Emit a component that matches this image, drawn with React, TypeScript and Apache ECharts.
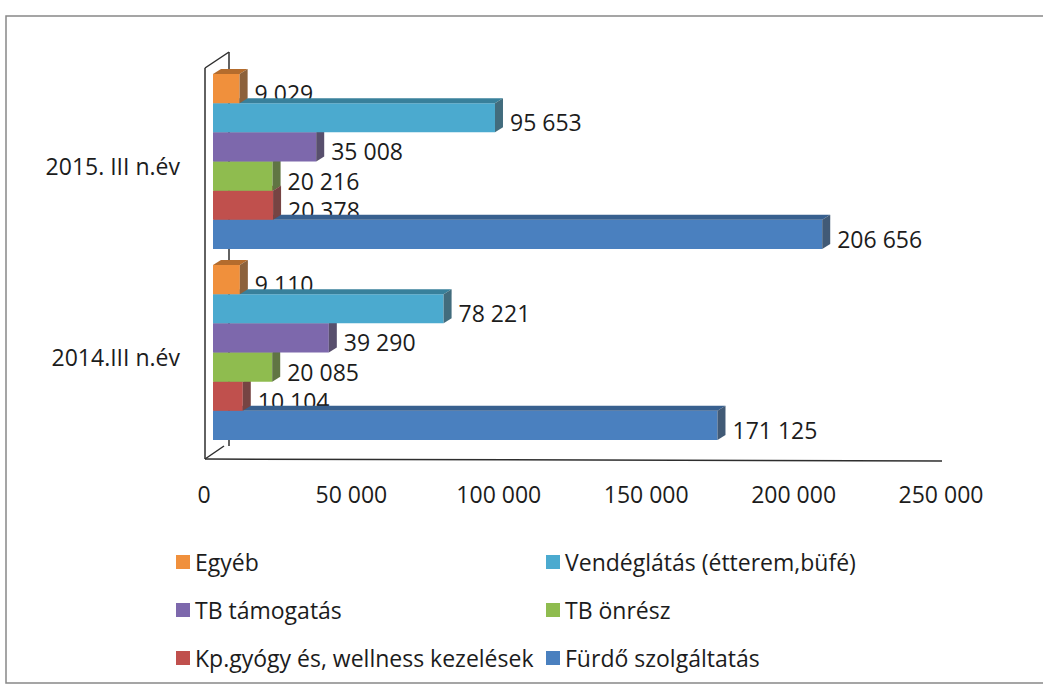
import React, { useEffect, useRef } from "react";
import * as echarts from "echarts";

// ---- data ----
const categories = ["2014.III n.év", "2015. III n.év"];
const seriesNames = [
  "Egyéb",
  "Vendéglátás (étterem,büfé)",
  "TB támogatás",
  "TB önrész",
  "Kp.gyógy és, wellness kezelések",
  "Fürdő szolgáltatás",
];
// values: [2014, 2015]
const egyeb = [9110, 9029];
const vendeglatas = [78221, 95653];
const tbTamogatas = [39290, 35008];
const tbOnresz = [20085, 20216];
const kpGyogy = [10104, 20378];
const furdo = [171125, 206656];
const seriesValues = [egyeb, vendeglatas, tbTamogatas, tbOnresz, kpGyogy, furdo];
const xMax = 250000;
const xInterval = 50000;

// ---- styling ----
const colors = ["#F0903C", "#4BAACF", "#7D68AC", "#8FBC4F", "#C0504D", "#4A80BF"];
const FONT = "'Open Sans', 'Noto Sans', sans-serif";
const TEXT = "#1c1c1c";
const DX = 9; // bar shift right (depth)
const DY = -4.5; // bar shift up (depth)
const DDX = 8; // bar depth x
const DDY = 5; // bar depth y
const BAR_FILL = 0.916;

function hexToRgb(h: string) {
  const n = parseInt(h.slice(1), 16);
  return [(n >> 16) & 255, (n >> 8) & 255, n & 255];
}
function mix(a: string, b: string, t: number) {
  const x = hexToRgb(a);
  const y = hexToRgb(b);
  const r = x.map((v, i) => Math.round(v * (1 - t) + y[i] * t));
  return `rgb(${r[0]},${r[1]},${r[2]})`;
}
function fmt(v: number) {
  return String(v).replace(/\B(?=(\d{3})+(?!\d))/g, " ");
}

const NSER = seriesNames.length;

function makeBarRender(pos: number, color: string) {
  const top = mix(color, "#000000", 0.25);
  const side = mix(color, "#3a3a3a", 0.55);
  return (params: any, api: any) => {
    const val = api.value(0);
    const cat = api.value(1);
    const start = api.coord([0, cat]);
    const end = api.coord([val, cat]);
    const band = api.size([0, 1])[1];
    const total = band * BAR_FILL;
    const h = total / NSER;
    const y = start[1] - total / 2 + pos * h + DY;
    const x0 = start[0] + DX;
    const x1 = end[0] + DX;
    return {
      type: "group",
      children: [
        { type: "rect", shape: { x: x0, y, width: x1 - x0, height: h }, style: { fill: color } },
        {
          type: "polygon",
          shape: { points: [[x0, y], [x1, y], [x1 + DDX, y - DDY], [x0 + DDX, y - DDY]] },
          style: { fill: top },
        },
        {
          type: "polygon",
          shape: { points: [[x1, y], [x1 + DDX, y - DDY], [x1 + DDX, y + h - DDY], [x1, y + h]] },
          style: { fill: side },
        },
      ],
    };
  };
}

function labelRender(params: any, api: any) {
  const val = api.value(0);
  const cat = api.value(1);
  const pos = api.value(2);
  const start = api.coord([0, cat]);
  const end = api.coord([val, cat]);
  const band = api.size([0, 1])[1];
  const total = band * BAR_FILL;
  const h = total / NSER;
  const y = start[1] - total / 2 + (pos + 0.5) * h;
  return {
    type: "text",
    x: end[0] + DX + DDX + 7,
    y,
    style: {
      text: fmt(val),
      fill: TEXT,
      fontSize: 23,
      fontFamily: FONT,
      verticalAlign: "middle",
      align: "left",
    },
  };
}

export default function App() {
  const ref = useRef<HTMLDivElement>(null);
  useEffect(() => {
    document.body.style.margin = "0";
    const chart = echarts.init(ref.current!, null, { renderer: "svg" });

    const barSeries: any[] = [];
    // draw bottom bars first so upper bars sit on top
    for (let pos = NSER - 1; pos >= 0; pos--) {
      barSeries.push({
        type: "custom",
        name: seriesNames[pos],
        z: 2,
        itemStyle: { color: colors[pos] },
        encode: { x: 0, y: 1 },
        data: seriesValues[pos].map((v, i) => [v, i]),
        renderItem: makeBarRender(pos, colors[pos]),
      });
    }
    const labelData: number[][] = [];
    seriesValues.forEach((vals, pos) => vals.forEach((v, i) => labelData.push([v, i, pos])));

    const frame = "#2e2e2e";
    chart.setOption({
      animation: false,
      backgroundColor: "#ffffff",
      textStyle: { fontFamily: FONT },
      grid: { left: 204, top: 70.5, width: 737, height: 382, containLabel: false, outerBoundsMode: "none" },
      xAxis: {
        type: "value",
        min: 0,
        max: xMax,
        interval: xInterval,
        axisLine: { show: false },
        axisTick: { show: false },
        splitLine: { show: false },
        axisLabel: {
          formatter: (v: number) => fmt(v),
          fontSize: 23,
          fontFamily: FONT,
          color: TEXT,
          margin: 30,
        },
      },
      yAxis: {
        type: "category",
        data: categories,
        axisLine: { show: false },
        axisTick: { show: false },
        splitLine: { show: false },
        axisLabel: { fontSize: 23, fontFamily: FONT, color: TEXT, margin: 24 },
      },
      legend: [
        {
          orient: "vertical",
          left: 171,
          top: 545,
          itemWidth: 14,
          itemHeight: 14,
          itemGap: 24,
          icon: "rect",
          selectedMode: false,
          textStyle: { fontSize: 23, lineHeight: 24, fontFamily: FONT, color: TEXT },
          data: [seriesNames[0], seriesNames[2], seriesNames[4]],
        },
        {
          orient: "vertical",
          left: 541,
          top: 545,
          itemWidth: 14,
          itemHeight: 14,
          itemGap: 24,
          icon: "rect",
          selectedMode: false,
          textStyle: { fontSize: 23, lineHeight: 24, fontFamily: FONT, color: TEXT },
          data: [seriesNames[1], seriesNames[3], seriesNames[5]],
        },
      ],
      graphic: [
        { type: "rect", z: 0, shape: { x: 6, y: 16, width: 1080, height: 667 }, style: { fill: "none", stroke: "#888", lineWidth: 1.5 } },
        { type: "line", z: 0, shape: { x1: 229, y1: 52, x2: 229, y2: 446 }, style: { stroke: frame, lineWidth: 1.5 } },
        { type: "line", z: 0, shape: { x1: 205, y1: 68, x2: 229, y2: 52 }, style: { stroke: frame, lineWidth: 1.5 } },
        { type: "line", z: 0, shape: { x1: 205, y1: 68, x2: 205, y2: 459 }, style: { stroke: frame, lineWidth: 1.5 } },
        { type: "line", z: 0, shape: { x1: 205, y1: 459, x2: 224, y2: 446 }, style: { stroke: frame, lineWidth: 1.5 } },
        { type: "line", z: 0, shape: { x1: 205, y1: 459, x2: 942, y2: 461 }, style: { stroke: frame, lineWidth: 1.5 } },
      ],
      series: [
        {
          type: "custom",
          name: "labels",
          z: 1,
          encode: { x: 0, y: 1 },
          data: labelData,
          renderItem: labelRender,
          silent: true,
        },
        ...barSeries,
      ],
    });
    return () => chart.dispose();
  }, []);
  return (
    <div
      ref={ref}
      style={{ position: "fixed", left: 0, top: 0, width: 1043, height: 686 }}
    />
  );
}
